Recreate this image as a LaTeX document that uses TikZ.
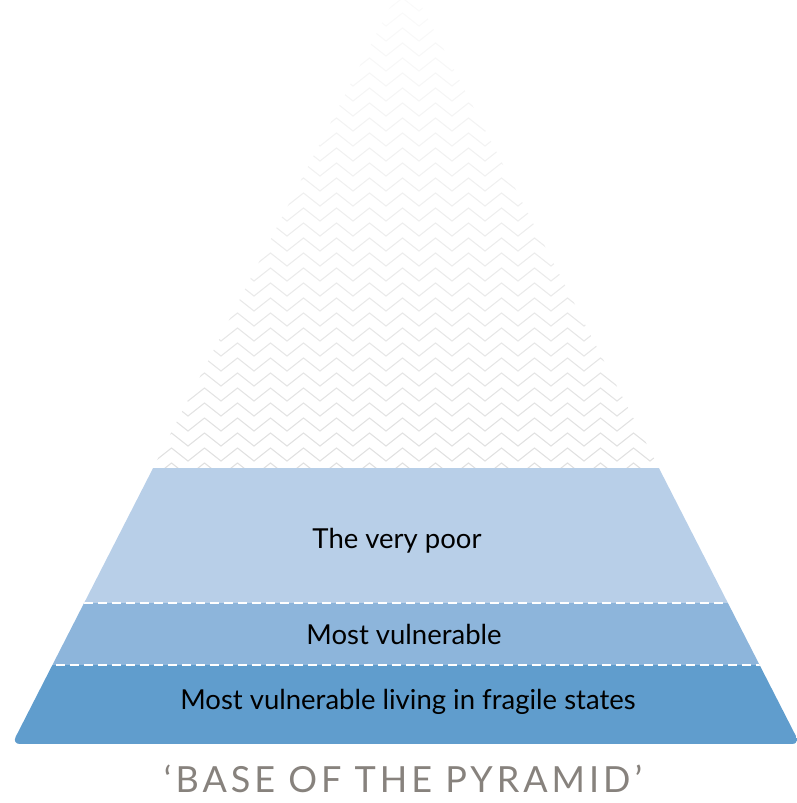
\documentclass[tikz,border=0pt]{standalone}
\usepackage{fontspec}
\setmainfont{Lato}
\definecolor{bandA}{RGB}{184,207,232}
\definecolor{bandB}{RGB}{141,181,219}
\definecolor{bandC}{RGB}{96,157,205}
\definecolor{zig}{RGB}{190,190,190}
\definecolor{titlegray}{RGB}{135,130,125}
\tikzset{
  bandtext/.style={font=\fontsize{27.5}{32}\selectfont, text=black, inner sep=0pt},
  divider/.style={white, line width=1.8pt, dash pattern=on 9pt off 5pt},
  zigline/.style={line width=1.1pt, line join=miter},
}
\begin{document}
\begin{tikzpicture}[x=1pt,y=-1pt]
\useasboundingbox (0,0) rectangle (797,803);
% zigzag pattern in upper triangle
\begin{scope}
  \clip (406,-24) -- (659,468) -- (153,468) -- cycle;
  \foreach \r in {0,...,34} {
    \pgfmathsetmacro{\yy}{476-15*\r}
    \pgfmathsetmacro{\shade}{max(5,48-1.3*\r)}
    \draw[zigline, zig!\shade!white] (-10,\yy) \foreach \k in {0,...,26} { -- ++(16.5,-13) -- ++(16.5,13) };
  }
\end{scope}
% bands
\begin{scope}
  \clip[rounded corners=8pt] (239,300) -- (573,300) -- (800,744) -- (12,744) -- cycle;
  \fill[bandA] (0,468) rectangle (797,603);
  \fill[bandB] (0,603) rectangle (797,665);
  \fill[bandC] (0,665) rectangle (797,744);
  \draw[divider] (0,603) -- (797,603);
  \draw[divider] (0,665) -- (797,665);
\end{scope}
\node[bandtext] (poor) at (397,541) {The very poor};
\node[bandtext] (vuln) at (404,634) {Most vulnerable};
\node[bandtext] (fragile) at (408,702) {Most vulnerable living in fragile states};
\node[font=\fontsize{36}{40}\selectfont\addfontfeatures{LetterSpace=11}, text=titlegray, inner sep=0pt] (title) at (403,779) {‘BASE OF THE PYRAMID’};
\end{tikzpicture}
\end{document}
